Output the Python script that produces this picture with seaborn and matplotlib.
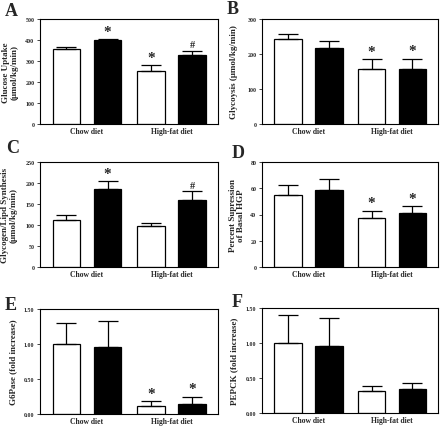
import pandas as pd
import seaborn as sns
import matplotlib
matplotlib.use("Agg")
import matplotlib.pyplot as plt

# -----------------------------
# Datos
# -----------------------------
dietas = ["Chow diet", "High-fat diet"]
grupos = ["Control", "Tratado"]

uptake_media = [[355, 252], [400, 330]]
uptake_err = [[11, 28], [5, 20]]
uptake_marcas = [["", "*"], ["*", "#"]]

glicolisis_media = [[243, 156], [216, 157]]
glicolisis_err = [[13, 29], [21, 30]]
glicolisis_marcas = [["", "*"], ["", "*"]]

sintesis_media = [[112, 97], [185, 159]]
sintesis_err = [[12, 7], [20, 22]]
sintesis_marcas = [["", ""], ["*", "#"]]

supresion_media = [[54.5, 37], [59, 41]]
supresion_err = [[8.3, 6], [8, 5.5]]
supresion_marcas = [["", "*"], ["", "*"]]

g6pase_media = [[1.00, 0.12], [0.955, 0.15]]
g6pase_err = [[0.30, 0.06], [0.37, 0.10]]
g6pase_marcas = [["", "*"], ["", "*"]]

pepck_media = [[1.00, 0.31], [0.957, 0.34]]
pepck_err = [[0.40, 0.07], [0.40, 0.095]]
pepck_marcas = [["", ""], ["", ""]]

paneles = [
    ("A", "Glucose Uptake\n(\u03bcmol/kg/min)", uptake_media, uptake_err, uptake_marcas,
     500, [0, 100, 200, 300, 400, 500], "{:.0f}"),
    ("B", "Glycoysis (\u03bcmol/kg/min)", glicolisis_media, glicolisis_err, glicolisis_marcas,
     300, [0, 100, 200, 300], "{:.0f}"),
    ("C", "Glycogen/Lipd Synthesis\n(\u03bcmol/kg/min)", sintesis_media, sintesis_err, sintesis_marcas,
     250, [0, 50, 100, 150, 200, 250], "{:.0f}"),
    ("D", "Percent Supression\nof Basal HGP", supresion_media, supresion_err, supresion_marcas,
     80, [0, 20, 40, 60, 80], "{:.0f}"),
    ("E", "G6Pase (fold increase)", g6pase_media, g6pase_err, g6pase_marcas,
     1.5, [0, 0.5, 1.0, 1.5], "{:.2f}"),
    ("F", "PEPCK (fold increase)", pepck_media, pepck_err, pepck_marcas,
     1.5, [0, 0.5, 1.0, 1.5], "{:.2f}"),
]

# cajas de ejes en pixeles: izquierda, arriba, derecha, abajo
cajas = [
    (40, 20, 218, 125), (262, 20, 438, 125),
    (40, 163, 218, 268), (262, 163, 438, 268),
    (40, 310, 218, 415), (262, 309, 438, 414),
]
letras_pos = [(5, 16), (227, 14), (6, 153), (232, 158), (5, 310), (232, 307)]
ylabel_x = [-0.122, -0.136, -0.128, -0.097, -0.128, -0.136]

W, H = 440, 427
sns.set_style("white")
plt.rcParams['font.family'] = ['Liberation Serif', 'DejaVu Serif']
plt.rcParams['font.weight'] = 'bold'

fig = plt.figure(figsize=(W / 100, H / 100), dpi=100)

for k, (letra, etiqueta, media, err, marcas, ymax, yticks, fmt) in enumerate(paneles):
    l, t, r, b = cajas[k]
    ax = fig.add_axes([l / W, 1 - b / H, (r - l) / W, (b - t) / H])

    df = pd.DataFrame({
        "dieta": dietas * 2,
        "grupo": [grupos[0]] * 2 + [grupos[1]] * 2,
        "valor": media[0] + media[1],
    })
    sns.barplot(data=df, x="dieta", y="valor", hue="grupo", order=dietas,
                hue_order=grupos, palette=["white", "black"], edgecolor="black",
                linewidth=0.9, width=0.976, gap=0.33, errorbar=None,
                legend=False, ax=ax)

    barras_por_grupo = [list(c.patches) for c in ax.containers]
    for h, barras in enumerate(barras_por_grupo):
        for i, barra in enumerate(barras):
            xc = barra.get_x() + barra.get_width() / 2
            yv = barra.get_height()
            ax.errorbar(xc, yv, yerr=[[0], [err[h][i]]], fmt="none",
                        ecolor="black", elinewidth=0.9, capsize=7, capthick=0.9,
                        zorder=1)
            if marcas[h][i]:
                tam = 11 if marcas[h][i] == "*" else 7.5
                ax.text(xc, yv + err[h][i] + ymax * 0.012, marcas[h][i],
                        ha="center", va="bottom", fontsize=tam, fontweight="bold")

    ax.set_xlim(-0.556, 1.55)
    ax.set_ylim(0, ymax)
    ax.set_yticks(yticks)
    ax.set_yticklabels([fmt.format(v) for v in yticks])
    ax.tick_params(axis="y", labelsize=4.3, length=2, width=0.6, pad=2, left=True)
    ax.tick_params(axis="x", labelsize=5.5, length=0, pad=2)
    ax.set_xlabel("")
    ax.set_ylabel(etiqueta, fontsize=6.5, fontweight="bold", linespacing=1.0)
    ax.yaxis.set_label_coords(ylabel_x[k], 0.5)
    for lado in ax.spines.values():
        lado.set_visible(True)
        lado.set_color("black")
        lado.set_linewidth(0.8)

    lx, ly = letras_pos[k]
    fig.text(lx / W, 1 - ly / H, letra, fontsize=13, fontweight="bold",
             ha="left", va="baseline")

fig.savefig("out.png", dpi=100)
